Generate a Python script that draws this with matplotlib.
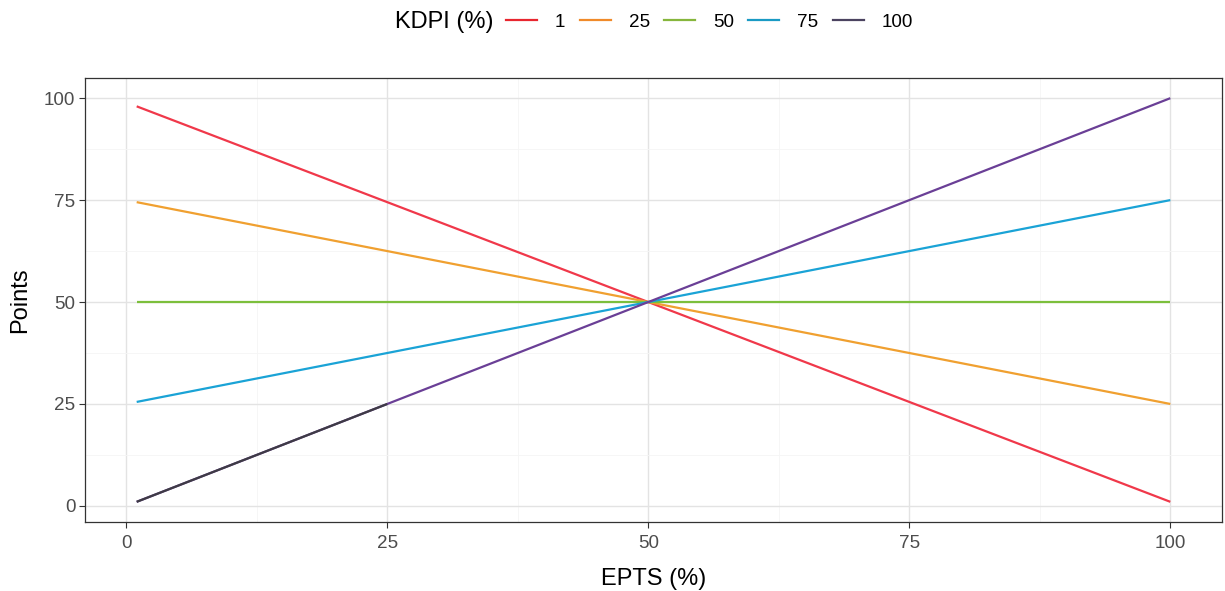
import numpy as np
import matplotlib.pyplot as plt
from matplotlib.lines import Line2D

plt.rcParams["font.family"] = ["Liberation Sans", "DejaVu Sans"]

# Data
epts = [1, 25, 50, 75, 100]
kdpi_labels = ["1", "25", "50", "75", "100"]
points_1 = [98, 74.5, 50, 25.5, 1]
points_25 = [74.5, 62.5, 50, 37.5, 25]
points_50 = [50, 50, 50, 50, 50]
points_75 = [25.5, 37.5, 50, 62.5, 75]
points_100 = [1, 25, 50, 75, 100]

series = [points_1, points_25, points_50, points_75, points_100]
colors = ["#f0384a", "#f0a030", "#7cbf3c", "#1aa3d6", "#6a3f96"]
legend_colors = ["#e8262f", "#f08a2a", "#86b63c", "#1a9ac4", "#4b4360"]

fig = plt.figure(figsize=(12.25, 5.91), dpi=100)
ax = fig.add_axes([85 / 1225, 1 - 522 / 591, (1222 - 85) / 1225, (522 - 78) / 591])

for ys, c in zip(series, colors):
    ax.plot(epts, ys, color=c, lw=1.6, solid_capstyle="butt")

# darker lower end of the KDPI 100 line
ax.plot(epts[:2], points_100[:2], color="#3e3b45", lw=1.6, solid_capstyle="butt")

ax.set_xlim(-3.95, 104.95)
ax.set_ylim(-3.95, 104.95)
ax.set_xticks([0, 25, 50, 75, 100])
ax.set_yticks([0, 25, 50, 75, 100])
ax.set_xticks([12.5, 37.5, 62.5, 87.5], minor=True)
ax.set_yticks([12.5, 37.5, 62.5, 87.5], minor=True)
ax.grid(which="major", color="#e3e3e3", lw=1.0)
ax.grid(which="minor", color="#f5f5f5", lw=0.6)
ax.set_axisbelow(True)
ax.tick_params(which="major", length=4, width=0.8, color="#333333",
               labelsize=13.6, labelcolor="#4d4d4d", pad=3)
ax.tick_params(axis="x", which="major", pad=5)
ax.tick_params(which="minor", length=0)
for s in ax.spines.values():
    s.set_color("#333333")
    s.set_linewidth(0.9)

ax.set_xlabel("EPTS (%)", fontsize=17, labelpad=12)
ax.set_ylabel("Points", fontsize=17, labelpad=9)

fig.text(395 / 1225, 1 - 22 / 591, "KDPI (%)", fontsize=17, va="center", ha="left")
handles = [Line2D([0], [0], color=c, lw=1.6) for c in legend_colors]
fig.legend(handles, kdpi_labels, loc="center left", bbox_to_anchor=(506 / 1225, 1 - 22 / 591),
           ncol=5, frameon=False, fontsize=13.6, handlelength=1.65, handletextpad=0.95,
           columnspacing=0.75, borderpad=0, borderaxespad=0)

fig.savefig("out.png", dpi=100)
